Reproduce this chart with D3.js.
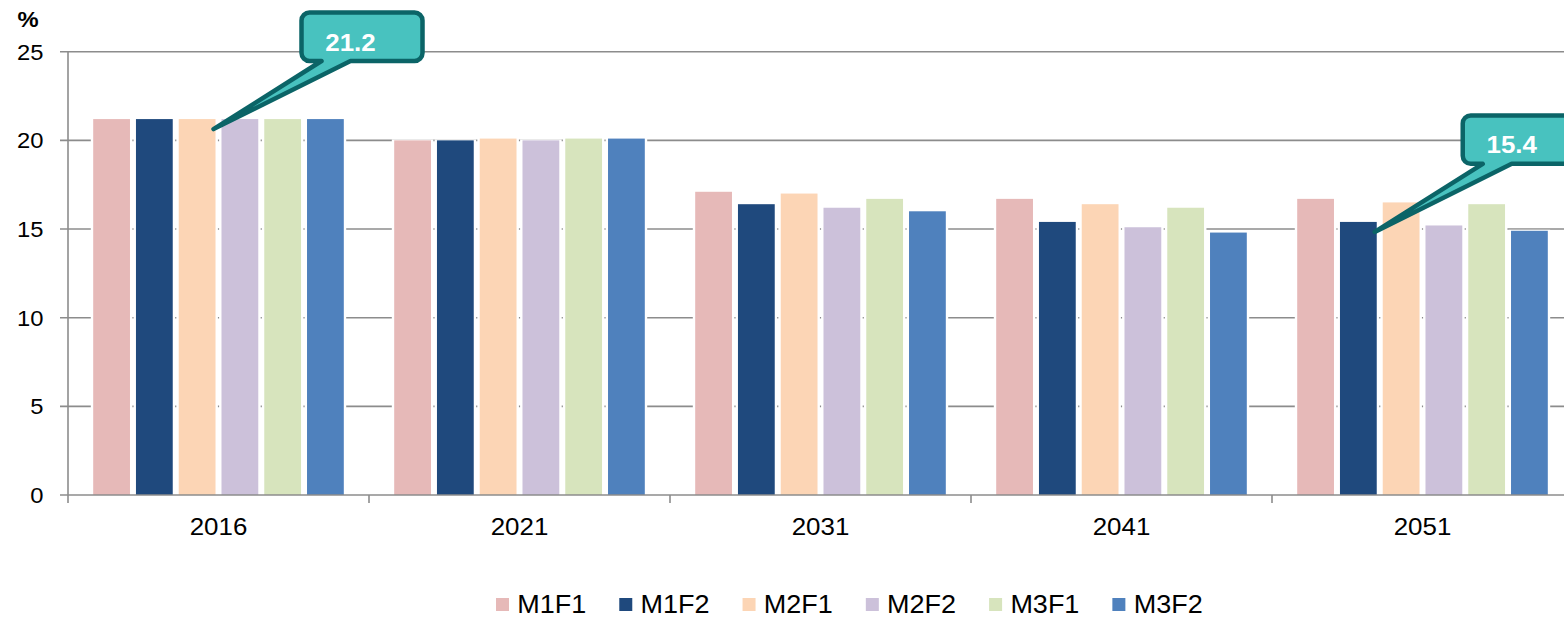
<!DOCTYPE html>
<html>
<head>
<meta charset="utf-8">
<script src="https://cdn.jsdelivr.net/npm/d3@7"></script>
<style>
  body { margin: 0; background: #fff; }
  svg { display: block; font-family: "Liberation Sans", Arial, sans-serif; }
</style>
</head>
<body>
<svg id="chart" width="1564" height="618"></svg>
<script>
// --- Data ---
const years = ['2016', '2021', '2031', '2041', '2051'];
const seriesNames = ['M1F1', 'M1F2', 'M2F1', 'M2F2', 'M3F1', 'M3F2'];
const m1f1 = [21.2, 20.0, 17.1, 16.7, 16.7];
const m1f2 = [21.2, 20.0, 16.4, 15.4, 15.4];
const m2f1 = [21.2, 20.1, 17.0, 16.4, 16.5];
const m2f2 = [21.2, 20.0, 16.2, 15.1, 15.2];
const m3f1 = [21.2, 20.1, 16.7, 16.2, 16.4];
const m3f2 = [21.2, 20.1, 16.0, 14.8, 14.9];
const seriesValues = [m1f1, m1f2, m2f1, m2f2, m3f1, m3f2];
const seriesColors = ['#e6b9b8', '#1f497d', '#fcd5b5', '#ccc1da', '#d7e4bd', '#4f81bd'];
const yTicks = [0, 5, 10, 15, 20, 25];
const callouts = [
  { year: '2016', series: 'M2F1' },
  { year: '2051', series: 'M1F2' }
];

const svg = d3.select('#chart');
const stretch = 'scale(1.08,1)';   // reference text is slightly wide
const gridColor = '#8c8c8c';

// --- Scales ---
const plot = { left: 68, top: 51.7, bottom: 495, right: 1573 };
const x = d3.scaleBand().domain(years).range([plot.left, plot.right]).padding(0);
const xs = d3.scaleBand().domain(seriesNames)
  .range([25.2, x.bandwidth() - 25.2])
  .paddingInner(0.14).paddingOuter(0);
const y = d3.scaleLinear().domain([0, 25]).range([plot.bottom, plot.top]);

// --- Gridlines ---
svg.append('g')
  .selectAll('line')
  .data(yTicks.filter(d => d > 0))
  .join('line')
  .attr('x1', plot.left - 8).attr('x2', 1564)
  .attr('y1', d => y(d)).attr('y2', d => y(d))
  .attr('stroke', gridColor).attr('stroke-width', 1.6);

// --- Bars ---
const rows = [];
years.forEach((yr, i) => {
  seriesNames.forEach((s, j) => {
    rows.push({ year: yr, series: s, value: seriesValues[j][i], color: seriesColors[j] });
  });
});

const barG = svg.append('g');
// white halo so the gridline only peeks through between bars
barG.selectAll('rect.halo')
  .data(rows)
  .join('rect')
  .attr('class', 'halo')
  .attr('x', d => x(d.year) + xs(d.series) - 2.4)
  .attr('width', xs.bandwidth() + 4.8)
  .attr('y', d => y(d.value) - 1)
  .attr('height', d => y(0) - y(d.value))
  .attr('fill', '#fff');

barG.selectAll('rect.bar')
  .data(rows)
  .join('rect')
  .attr('class', 'bar')
  .attr('x', d => x(d.year) + xs(d.series))
  .attr('width', xs.bandwidth())
  .attr('y', d => y(d.value))
  .attr('height', d => y(0) - y(d.value))
  .attr('fill', d => d.color);

// --- Axes ---
const axisG = svg.append('g').attr('stroke', gridColor).attr('stroke-width', 1.6);
axisG.append('line')
  .attr('x1', plot.left).attr('x2', plot.left)
  .attr('y1', plot.top).attr('y2', plot.bottom + 8);
axisG.append('line')
  .attr('x1', plot.left - 8).attr('x2', 1564)
  .attr('y1', plot.bottom).attr('y2', plot.bottom);
axisG.selectAll('line.xtick')
  .data(years.slice(1))
  .join('line')
  .attr('class', 'xtick')
  .attr('x1', d => x(d)).attr('x2', d => x(d))
  .attr('y1', plot.bottom).attr('y2', plot.bottom + 8);

// y tick labels
svg.append('g')
  .selectAll('text')
  .data(yTicks)
  .join('text')
  .attr('transform', d => `translate(43.5,${y(d)}) ${stretch}`)
  .attr('dy', '0.36em')
  .attr('text-anchor', 'end')
  .attr('font-size', 22)
  .attr('fill', '#000')
  .text(d => d);

// x tick labels
svg.append('g')
  .selectAll('text')
  .data(years)
  .join('text')
  .attr('transform', d => `translate(${x(d) + x.bandwidth() / 2},534.5) ${stretch}`)
  .attr('text-anchor', 'middle')
  .attr('font-size', 24)
  .attr('fill', '#000')
  .text(d => d);

// unit label
svg.append('text')
  .attr('transform', `translate(17.5,26.5) ${stretch}`)
  .attr('font-size', 22)
  .attr('font-weight', 'bold')
  .attr('fill', '#000')
  .text('%');

// --- Legend ---
const legend = svg.append('g');
let lx = 496;
seriesNames.forEach((s, j) => {
  legend.append('rect')
    .attr('x', lx).attr('y', 598)
    .attr('width', 13).attr('height', 13)
    .attr('fill', seriesColors[j]);
  const t = legend.append('text')
    .attr('transform', `translate(${lx + 21.3},612.5) ${stretch}`)
    .attr('font-size', 25)
    .attr('fill', '#000')
    .text(s);
  lx += 21.3 + t.node().getComputedTextLength() * 1.08 + 33;
});

// --- Callouts ---
const boxW = 121, boxH = 48.4, r = 8;
callouts.forEach(c => {
  const j = seriesNames.indexOf(c.series);
  const val = seriesValues[j][years.indexOf(c.year)];
  const tipX = x(c.year) + xs(c.series) + xs.bandwidth() - 2;
  const tipY = y(val) + 10;
  const bx = tipX + 88, by = tipY - 116.5;
  const tl = bx + 20, tr = bx + 49, bb = by + boxH;
  const p = d3.path();
  p.moveTo(bx + r, by);
  p.lineTo(bx + boxW - r, by);
  p.arcTo(bx + boxW, by, bx + boxW, by + r, r);
  p.lineTo(bx + boxW, bb - r);
  p.arcTo(bx + boxW, bb, bx + boxW - r, bb, r);
  p.lineTo(tr, bb);
  p.lineTo(tipX, tipY);
  p.lineTo(tl, bb);
  p.lineTo(bx + r, bb);
  p.arcTo(bx, bb, bx, bb - r, r);
  p.lineTo(bx, by + r);
  p.arcTo(bx, by, bx + r, by, r);
  p.closePath();
  svg.append('path')
    .attr('d', p.toString())
    .attr('fill', '#48c2bf')
    .attr('stroke', '#0b6467')
    .attr('stroke-width', 4.5)
    .attr('stroke-linejoin', 'round');
  svg.append('text')
    .attr('transform', `translate(${bx + 49},${by + 38}) ${stretch}`)
    .attr('text-anchor', 'middle')
    .attr('font-size', 24)
    .attr('font-weight', 'bold')
    .attr('fill', '#fff')
    .text(d3.format('.1f')(val));
});
</script>
</body>
</html>
